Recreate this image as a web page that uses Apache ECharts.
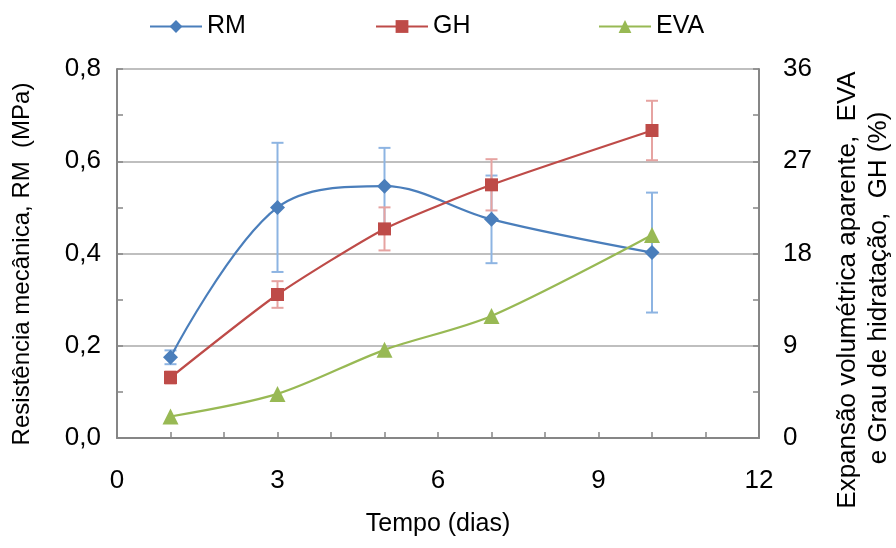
<!DOCTYPE html>
<html>
<head>
<meta charset="utf-8">
<script src="https://cdn.jsdelivr.net/npm/echarts@6/dist/echarts.min.js"></script>
<style>html,body{margin:0;padding:0;background:#fff}#c{width:896px;height:548px}</style>
</head>
<body>
<div id="c"></div>
<script>
// Data
var days = [1, 3, 5, 7, 10];
var rmValues = [0.175, 0.50, 0.546, 0.474, 0.402];
var rmErrors = [0.015, 0.14, 0.083, 0.095, 0.13];
var ghValues = [5.9, 14.0, 20.4, 24.7, 30.0];
var ghErrors = [0.6, 1.3, 2.1, 2.5, 2.9];
var evaValues = [2.1, 4.3, 8.6, 11.9, 19.8];
var xTicks = [0, 3, 6, 9, 12];
var leftTicks = [0, 0.2, 0.4, 0.6, 0.8];
var rightTicks = [0, 9, 18, 27, 36];

var FONT = 'Liberation Sans, Arial, sans-serif';
var FS = 25;
var TICK_FS = 26;
var AXIS_COLOR = '#868686';
var GRID_COLOR = '#BFBFBF';

function pairs(xs, ys) { return xs.map(function (x, i) { return [x, ys[i]]; }); }
function errData(xs, ys, es) { return xs.map(function (x, i) { return [x, ys[i] - es[i], ys[i] + es[i]]; }); }

function errRender(color) {
  return function (params, api) {
    var x = api.value(0);
    var lo = api.coord([x, api.value(1)]);
    var hi = api.coord([x, api.value(2)]);
    var hw = 6;
    var st = { stroke: color, lineWidth: 2 };
    return {
      type: 'group',
      children: [
        { type: 'line', shape: { x1: lo[0], y1: lo[1], x2: hi[0], y2: hi[1] }, style: st },
        { type: 'line', shape: { x1: lo[0] - hw, y1: lo[1], x2: lo[0] + hw, y2: lo[1] }, style: st },
        { type: 'line', shape: { x1: hi[0] - hw, y1: hi[1], x2: hi[0] + hw, y2: hi[1] }, style: st }
      ]
    };
  };
}

var chart = echarts.init(document.getElementById('c'), null, { renderer: 'canvas' });
var legendText = { fontFamily: FONT, fontSize: FS, color: '#000' };
function legendAt(name, left) {
  return { data: [name], left: left, top: 9, itemWidth: 52, itemHeight: 16, itemGap: 7, textStyle: legendText };
}
chart.setOption({
  animation: false,
  backgroundColor: '#fff',
  textStyle: { fontFamily: FONT },
  grid: { left: 117, right: 137, top: 69, bottom: 110, containLabel: false },
  legend: [legendAt('RM', 144), legendAt('GH', 370), legendAt('EVA', 593)],
  xAxis: {
    type: 'value', min: xTicks[0], max: xTicks[xTicks.length - 1], interval: 3,
    axisLine: { show: true, lineStyle: { color: AXIS_COLOR, width: 2 } },
    axisTick: { show: true, inside: true, length: 6, lineStyle: { color: AXIS_COLOR, width: 1.5 } },
    minorTick: { show: true, splitNumber: 3, length: 6, lineStyle: { color: AXIS_COLOR, width: 1.5 } },
    axisLabel: { fontSize: TICK_FS, color: '#000', fontFamily: FONT, margin: 30 },
    splitLine: { show: false },
    name: 'Tempo (dias)', nameLocation: 'middle', nameGap: 74,
    nameTextStyle: { fontSize: FS, color: '#000', fontFamily: FONT }
  },
  yAxis: [
    {
      type: 'value', min: leftTicks[0], max: leftTicks[leftTicks.length - 1], interval: 0.2,
      axisLine: { show: true, lineStyle: { color: AXIS_COLOR, width: 2 } },
      axisTick: { show: true, inside: true, length: 6, lineStyle: { color: AXIS_COLOR, width: 1.5 } },
      minorTick: { show: true, splitNumber: 2, length: 6, lineStyle: { color: AXIS_COLOR, width: 1.5 } },
      axisLabel: { fontSize: TICK_FS, color: '#000', fontFamily: FONT, margin: 16,
        formatter: function (v) { return v.toFixed(1).replace('.', ','); } },
      splitLine: { show: true, lineStyle: { color: GRID_COLOR, width: 2 } }
    },
    {
      type: 'value', min: rightTicks[0], max: rightTicks[rightTicks.length - 1], interval: 9,
      axisLine: { show: true, lineStyle: { color: AXIS_COLOR, width: 2 } },
      axisTick: { show: true, inside: true, length: 6, lineStyle: { color: AXIS_COLOR, width: 1.5 } },
      minorTick: { show: true, splitNumber: 2, length: 6, lineStyle: { color: AXIS_COLOR, width: 1.5 } },
      axisLabel: { fontSize: TICK_FS, color: '#000', fontFamily: FONT, margin: 24 },
      splitLine: { show: false }
    }
  ],
  graphic: [
    { type: 'text', x: 22, y: 264, rotation: Math.PI / 2,
      style: { text: 'Resistência mecânica, RM  (MPa)', fontSize: 24, fontFamily: FONT, fill: '#000', textAlign: 'center', textVerticalAlign: 'middle' } },
    { type: 'text', x: 848, y: 290, rotation: Math.PI / 2,
      style: { text: 'Expansão volumétrica aparente,  EVA', fontSize: 26, fontFamily: FONT, fill: '#000', textAlign: 'center', textVerticalAlign: 'middle' } },
    { type: 'text', x: 879, y: 288, rotation: Math.PI / 2,
      style: { text: 'e Grau de hidratação,  GH (%)', fontSize: 26, fontFamily: FONT, fill: '#000', textAlign: 'center', textVerticalAlign: 'middle' } }
  ],
  series: [
    { type: 'custom', name: 'RM_err', yAxisIndex: 0, renderItem: errRender('#8DB4E2'), data: errData(days, rmValues, rmErrors), z: 1, silent: true, encode: { x: 0, y: [1, 2] } },
    { type: 'custom', name: 'GH_err', yAxisIndex: 1, renderItem: errRender('#E6A3A1'), data: errData(days, ghValues, ghErrors), z: 1, silent: true, encode: { x: 0, y: [1, 2] } },
    { type: 'line', name: 'RM', yAxisIndex: 0, data: pairs(days, rmValues), smooth: 0.35, symbol: 'diamond', symbolSize: 15,
      itemStyle: { color: '#4A7EBB' }, lineStyle: { color: '#4A7EBB', width: 2.2 }, z: 3 },
    { type: 'line', name: 'GH', yAxisIndex: 1, data: pairs(days, ghValues), smooth: 0.2, symbol: 'rect', symbolSize: 13,
      itemStyle: { color: '#BE4B48' }, lineStyle: { color: '#BE4B48', width: 2.2 }, z: 3 },
    { type: 'line', name: 'EVA', yAxisIndex: 1, data: pairs(days, evaValues), smooth: 0.3, symbol: 'triangle', symbolSize: 16,
      itemStyle: { color: '#98B954' }, lineStyle: { color: '#98B954', width: 2.2 }, z: 3 }
  ]
});
</script>
</body>
</html>
